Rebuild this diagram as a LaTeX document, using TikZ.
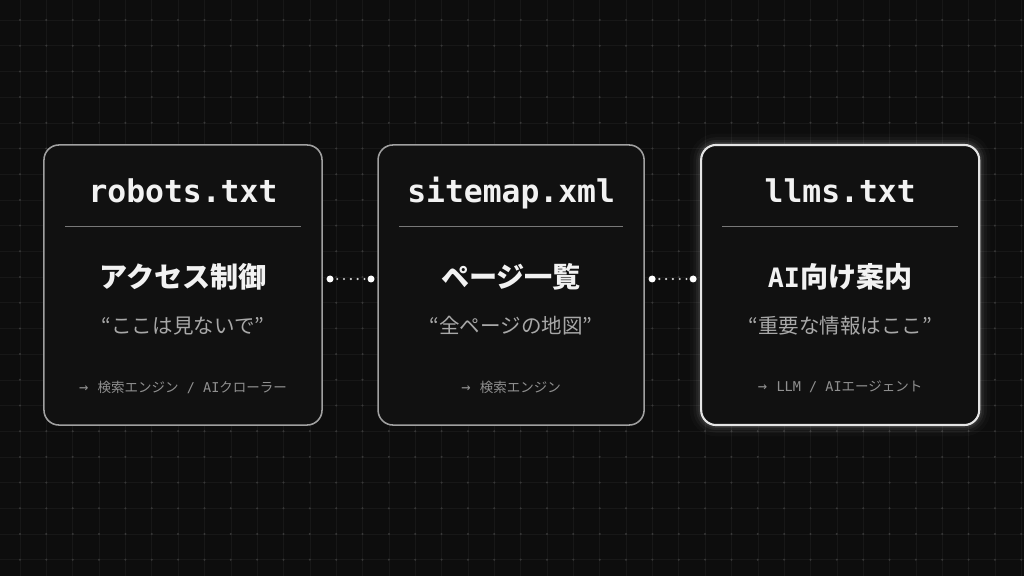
\documentclass[tikz,border=0pt]{standalone}
\usepackage{fontspec}
\setmonofont{DejaVu Sans Mono}
\newfontfamily\jpfont{Noto Sans CJK JP}
\usetikzlibrary{positioning,calc,backgrounds}
\definecolor{bgdark}{HTML}{0D0D0D}
\definecolor{gridline}{HTML}{171717}
\definecolor{griddot}{HTML}{383838}
\definecolor{cardfill}{HTML}{111111}
\definecolor{cardedge}{HTML}{A0A0A0}
\definecolor{quotegray}{HTML}{A8A8A8}
\definecolor{notegray}{HTML}{909090}
\definecolor{rulegray}{HTML}{787878}
\definecolor{dotgray}{HTML}{D0D0D0}

\begin{document}
\begin{tikzpicture}
[x=0.025cm,y=-0.025cm,node distance=1.4cm,
card/.style={draw=cardedge,fill=cardfill,line width=1.1pt,rounded corners=0.375cm,
minimum height=7cm,inner sep=0pt,outer sep=0pt},
hot/.style={draw=white!90!black,line width=1.5pt},
fname/.style={anchor=base,text=white!95!black,font=\ttfamily\bfseries\fontsize{22.3}{26}\selectfont},
role/.style={text=white!95!black,font=\jpfont\bfseries\fontsize{20}{24}\selectfont},
quote/.style={text=quotegray,font=\jpfont\fontsize{14.6}{18}\selectfont},
note/.style={text=notegray,font=\jpfont\fontsize{9.6}{11}\selectfont},
rule/.style={rulegray,line width=0.75pt},
bigdot/.style={shape=circle,fill=white,inner sep=0pt,minimum size=0.175cm},
link/.style={dotgray,line width=1.7pt,line cap=round,dash pattern=on 0pt off 4.84pt,dash phase=2.42pt},
gridln/.style={gridline,line width=0.4pt}]
\useasboundingbox (0,0) rectangle (1024,576);
%%%%%%%%%%
%%%%% cards
\node (robots) [card,minimum width=6.95cm] at (183,285) {};
\node (sitemap) [card,minimum width=6.65cm,right=1.4cm of robots] {};
\node (llms) [card,hot,minimum width=6.95cm,right=1.425cm of sitemap] {};
%% robots.txt
\node (robotsname) [fname] at ($(robots.north)+(0,58)$) {robots.txt};
\draw[rule] ($(robots.north west)+(21,82)$) -- ($(robots.north east)+(-21,82)$);
\node (robotsrole) [role] at ($(robots.north)+(0,132)$) {アクセス制御};
\node (robotsquote) [quote] at ($(robots.north)+(0,181)$) {“ここは見ないで”};
\node (robotsuser) [note] at ($(robots.north)+(0,242)$)
{{\ttfamily\fontsize{11}{11}\selectfont→ }検索エンジン{\ttfamily{} / AI}クローラー};
%% sitemap.xml
\node (sitemapname) [fname] at ($(sitemap.north)+(0,58)$) {sitemap.xml};
\draw[rule] ($(sitemap.north west)+(21,82)$) -- ($(sitemap.north east)+(-21,82)$);
\node (sitemaprole) [role] at ($(sitemap.north)+(0,132)$) {ページ一覧};
\node (sitemapquote) [quote] at ($(sitemap.north)+(0,181)$) {“全ページの地図”};
\node (sitemapuser) [note] at ($(sitemap.north)+(0,242)$)
{{\ttfamily\fontsize{11}{11}\selectfont→ }検索エンジン};
%% llms.txt
\node (llmsname) [fname] at ($(llms.north)+(0,58)$) {llms.txt};
\draw[rule] ($(llms.north west)+(21,82)$) -- ($(llms.north east)+(-21,82)$);
\node (llmsrole) [role] at ($(llms.north)+(0,132)$)
{{\ttfamily\fontsize{19}{22}\selectfont AI}向け案内};
\node (llmsquote) [quote] at ($(llms.north)+(0,181)$) {“重要な情報はここ”};
\node (llmsuser) [note] at ($(llms.north)+(0,242)$)
{{\ttfamily\fontsize{11}{11}\selectfont→ }{\ttfamily LLM / AI}エージェント};
%%%%%%%%%%
%%%%% dotted links
\node (ra) [bigdot] at ($(robots.east)+(8,-6)$) {};
\node (sa) [bigdot] at ($(sitemap.west)+(-7,-6)$) {};
\node (sb) [bigdot] at ($(sitemap.east)+(8,-6)$) {};
\node (la) [bigdot] at ($(llms.west)+(-8,-6)$) {};
\draw[link] (ra) -- (sa);
\draw[link] (sb) -- (la);
%%%%%%%%%%
%%%%% backdrop, grid and glow
\begin{scope}[on background layer]
\fill[bgdark] (0,0) rectangle (1024,576);
\foreach \i in {0,...,38} \draw[gridln] (20+26.35*\i,0) -- (20+26.35*\i,576);
\foreach \j in {0,...,21} \draw[gridln] (0,20+25.7*\j) -- (1024,20+25.7*\j);
\foreach \i in {0,...,38} \foreach \j in {0,...,21}
  \fill[griddot] (20+26.35*\i,20+25.7*\j) circle (0.028cm);
\foreach \w/\o in {16/0.02,11/0.03,7/0.05,4/0.07}
  \draw[white,opacity=\o,line width=\w pt,rounded corners=0.375cm]
  (llms.north west) rectangle (llms.south east);
\end{scope}
\end{tikzpicture}
\end{document}
